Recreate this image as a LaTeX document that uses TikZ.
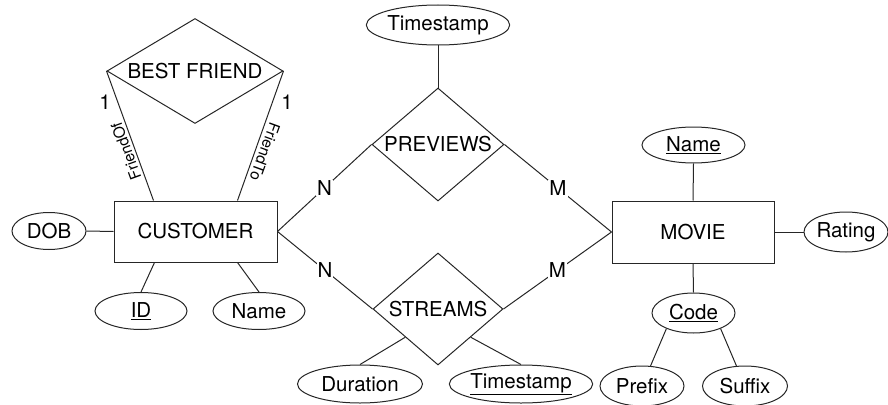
\documentclass[tikz,border=0pt]{standalone}
\usepackage{fontspec}
\setmainfont{TeX Gyre Heros}
\usetikzlibrary{shapes.geometric,calc}
\tikzset{
  erline/.style={draw=black!85, line width=1pt},
  entity/.style={rectangle, erline, inner sep=0pt, font=\fontsize{20.5}{23}\selectfont},
  attr/.style={ellipse, erline, inner sep=0pt, font=\fontsize{20.5}{23}\selectfont},
  rel/.style={diamond, erline, inner sep=0pt, font=\fontsize{20.5}{23}\selectfont},
  card/.style={fill=white, inner sep=1pt, font=\fontsize{20.5}{23}\selectfont},
  role/.style={inner sep=0pt, font=\fontsize{15.5}{17}\selectfont},
}
\begin{document}
\begin{tikzpicture}[x=1pt, y=-1pt]
\useasboundingbox (0,0) rectangle (888,404);
\clip (0,0) rectangle (888,404);
% entities
\node[entity, minimum width=163pt, minimum height=61pt] (cust) at (195.5,231.5) {CUSTOMER};
\node[entity, minimum width=162pt, minimum height=62pt] (movie) at (693,232) {MOVIE};
% relationships
\node[rel, minimum width=176pt, minimum height=105pt, shape aspect=1.68] (bf) at (195,71) {BEST FRIEND};
\node[rel, minimum width=132pt, minimum height=113pt, shape aspect=1.17] (prev) at (438,144.5) {PREVIEWS};
\node[rel, minimum width=130pt, minimum height=112pt, shape aspect=1.16] (str) at (438,309) {STREAMS};
% attributes
\node[attr, minimum width=124pt, minimum height=40pt] (ts1) at (438,25) {Timestamp};
\node[attr, minimum width=74pt, minimum height=37pt] (dob) at (49,231) {DOB};
\node[attr, minimum width=92pt, minimum height=37pt] (id) at (141,311) {\underline{ID}};
\node[attr, minimum width=92pt, minimum height=37pt] (cname) at (259,311) {Name};
\node[attr, minimum width=103pt, minimum height=36pt] (mname) at (693.5,145) {\underline{Name}};
\node[attr, minimum width=84pt, minimum height=40pt] (rating) at (846,232) {Rating};
\node[attr, minimum width=83pt, minimum height=40pt] (code) at (693.5,313) {\underline{Code}};
\node[attr, minimum width=84pt, minimum height=40pt] (prefix) at (642,386) {Prefix};
\node[attr, minimum width=85pt, minimum height=40pt] (suffix) at (745,386) {Suffix};
\node[attr, minimum width=125pt, minimum height=38pt] (dur) at (360,384) {Duration};
\node[attr, minimum width=123pt, minimum height=38pt] (ts2) at (521,384) {\underline{Timestamp}};
% connectors
\draw[erline] (bf.west) -- ([xshift=40pt]cust.north west);
\draw[erline] (bf.east) -- ([xshift=-40pt]cust.north east);
\node[card] (one1) at (105,102) {1};
\node[card] (one2) at (287,102) {1};
\node[role, rotate=110] (fof) at (126,151) {FriendOf};
\node[role, rotate=-110] (fto) at (265,152) {FriendTo};
\draw[erline] (dob.east) -- (cust.west);
\draw[erline] ([xshift=41pt]cust.south west) -- (id.north);
\draw[erline] ([xshift=-40pt]cust.south east) -- (cname.north);
\draw[erline] (ts1.south) -- (prev.north);
\draw[erline] (cust.east) -- node[card] (n1) {N} (prev.west);
\draw[erline] (prev.east) -- node[card] (m1) {M} (movie.west);
\draw[erline] (cust.east) -- node[card] (n2) {N} (str.west);
\draw[erline] (str.east) -- node[card] (m2) {M} (movie.west);
\draw[erline] ($(str.west)!0.5!(str.south)$) -- (dur.north);
\draw[erline] ($(str.east)!0.5!(str.south)$) -- (ts2.north);
\draw[erline] (mname.south) -- (movie.north);
\draw[erline] (movie.east) -- (rating.west);
\draw[erline] (movie.south) -- (code.north);
\draw[erline] (code.210) -- (prefix);
\draw[erline] (code.330) -- (suffix);
\end{tikzpicture}
\end{document}
